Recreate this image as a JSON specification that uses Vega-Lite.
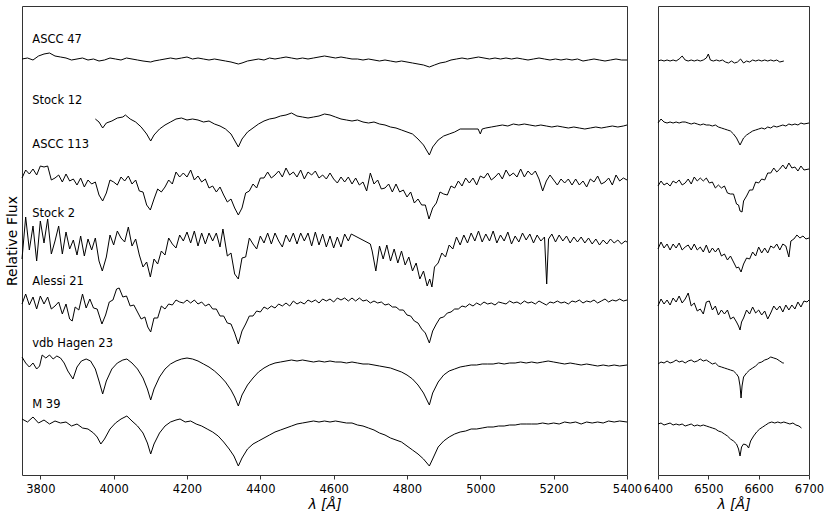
{
"$schema":"https://vega.github.io/schema/vega-lite/v6.json",
"padding":{"left":4,"top":5,"right":5,"bottom":3},
"bounds":"flush",
"spacing":31,
"config":{"font":"DejaVu Sans","view":{"stroke":"#333","strokeWidth":1},
"axis":{"labelFont":"DejaVu Sans","titleFont":"DejaVu Sans","labelFontSize":11.5,"titleFontSize":14,"titleFontWeight":"normal","labelColor":"#000","titleColor":"#000","tickColor":"#333","tickSize":4,"labelPadding":4,"titlePadding":3,"domain":false,"grid":false,"minExtent":0,"maxExtent":200,"labelFlush":false,"labelOverlap":false}},
"datasets":{
"T":[{"s":"ASCC 47","w":3778,"f":435},{"s":"Stock 12","w":3778,"f":374},{"s":"ASCC 113","w":3778,"f":330},{"s":"Stock 2","w":3778,"f":261},{"s":"Alessi 21","w":3778,"f":193},{"s":"vdb Hagen 23","w":3778,"f":131},{"s":"M 39","w":3778,"f":70}],
"L":[
{"s":"a","w":3750,"f":416},{"s":"a","w":3765,"f":417},{"s":"a","w":3780,"f":415},{"s":"a","w":3795,"f":419},{"s":"a","w":3810,"f":421},{"s":"a","w":3825,"f":422},{"s":"a","w":3840,"f":419},{"s":"a","w":3855,"f":418},{"s":"a","w":3870,"f":417},{"s":"a","w":3885,"f":415},{"s":"a","w":3900,"f":416},{"s":"a","w":3915,"f":417},{"s":"a","w":3930,"f":415},{"s":"a","w":3945,"f":416},{"s":"a","w":3960,"f":414},{"s":"a","w":3975,"f":415},{"s":"a","w":3990,"f":417},{"s":"a","w":4005,"f":416},{"s":"a","w":4020,"f":415},{"s":"a","w":4035,"f":417},{"s":"a","w":4050,"f":416},{"s":"a","w":4065,"f":415},{"s":"a","w":4080,"f":414},{"s":"a","w":4101,"f":413},{"s":"a","w":4110,"f":414},{"s":"a","w":4125,"f":415},{"s":"a","w":4140,"f":416},{"s":"a","w":4155,"f":417},{"s":"a","w":4170,"f":416},{"s":"a","w":4185,"f":417},{"s":"a","w":4200,"f":418},{"s":"a","w":4215,"f":416},{"s":"a","w":4230,"f":417},{"s":"a","w":4245,"f":416},{"s":"a","w":4260,"f":415},{"s":"a","w":4275,"f":416},{"s":"a","w":4290,"f":415},{"s":"a","w":4305,"f":414},{"s":"a","w":4320,"f":413},{"s":"a","w":4340,"f":411},{"s":"a","w":4350,"f":412},{"s":"a","w":4365,"f":414},{"s":"a","w":4380,"f":415},{"s":"a","w":4395,"f":416},{"s":"a","w":4410,"f":415},{"s":"a","w":4425,"f":417},{"s":"a","w":4440,"f":416},{"s":"a","w":4455,"f":417},{"s":"a","w":4470,"f":418},{"s":"a","w":4485,"f":417},{"s":"a","w":4500,"f":416},{"s":"a","w":4515,"f":417},{"s":"a","w":4530,"f":416},{"s":"a","w":4545,"f":417},{"s":"a","w":4560,"f":418},{"s":"a","w":4575,"f":419},{"s":"a","w":4590,"f":418},{"s":"a","w":4605,"f":417},{"s":"a","w":4620,"f":418},{"s":"a","w":4635,"f":417},{"s":"a","w":4650,"f":416},{"s":"a","w":4665,"f":416},{"s":"a","w":4680,"f":415},{"s":"a","w":4695,"f":416},{"s":"a","w":4710,"f":415},{"s":"a","w":4725,"f":414},{"s":"a","w":4740,"f":415},{"s":"a","w":4755,"f":414},{"s":"a","w":4770,"f":413},{"s":"a","w":4785,"f":414},{"s":"a","w":4800,"f":413},{"s":"a","w":4815,"f":412},{"s":"a","w":4830,"f":411},{"s":"a","w":4845,"f":410},{"s":"a","w":4861,"f":408},{"s":"a","w":4875,"f":410},{"s":"a","w":4890,"f":412},{"s":"a","w":4905,"f":413},{"s":"a","w":4920,"f":415},{"s":"a","w":4935,"f":416},{"s":"a","w":4950,"f":417},{"s":"a","w":4965,"f":416},{"s":"a","w":4980,"f":417},{"s":"a","w":4995,"f":418},{"s":"a","w":5010,"f":417},{"s":"a","w":5025,"f":416},{"s":"a","w":5040,"f":417},{"s":"a","w":5055,"f":416},{"s":"a","w":5070,"f":417},{"s":"a","w":5085,"f":416},{"s":"a","w":5100,"f":417},{"s":"a","w":5115,"f":416},{"s":"a","w":5130,"f":415},{"s":"a","w":5145,"f":416},{"s":"a","w":5160,"f":417},{"s":"a","w":5175,"f":416},{"s":"a","w":5190,"f":415},{"s":"a","w":5205,"f":416},{"s":"a","w":5220,"f":415},{"s":"a","w":5235,"f":416},{"s":"a","w":5250,"f":415},{"s":"a","w":5265,"f":416},{"s":"a","w":5280,"f":414},{"s":"a","w":5295,"f":415},{"s":"a","w":5310,"f":416},{"s":"a","w":5325,"f":415},{"s":"a","w":5340,"f":414},{"s":"a","w":5355,"f":415},{"s":"a","w":5370,"f":416},{"s":"a","w":5385,"f":415},{"s":"a","w":5400,"f":415},
{"s":"t","w":3950,"f":356},{"s":"t","w":3960,"f":353},{"s":"t","w":3970,"f":347},{"s":"t","w":3980,"f":352},{"s":"t","w":3995,"f":354},{"s":"t","w":4010,"f":357},{"s":"t","w":4025,"f":358},{"s":"t","w":4032,"f":360},{"s":"t","w":4045,"f":356},{"s":"t","w":4060,"f":353},{"s":"t","w":4075,"f":348},{"s":"t","w":4090,"f":341},{"s":"t","w":4101,"f":334},{"s":"t","w":4110,"f":340},{"s":"t","w":4125,"f":346},{"s":"t","w":4140,"f":350},{"s":"t","w":4155,"f":353},{"s":"t","w":4170,"f":356},{"s":"t","w":4185,"f":357},{"s":"t","w":4200,"f":355},{"s":"t","w":4215,"f":356},{"s":"t","w":4230,"f":355},{"s":"t","w":4245,"f":353},{"s":"t","w":4260,"f":354},{"s":"t","w":4275,"f":351},{"s":"t","w":4290,"f":349},{"s":"t","w":4305,"f":346},{"s":"t","w":4320,"f":341},{"s":"t","w":4340,"f":328},{"s":"t","w":4350,"f":336},{"s":"t","w":4365,"f":343},{"s":"t","w":4380,"f":347},{"s":"t","w":4395,"f":351},{"s":"t","w":4410,"f":354},{"s":"t","w":4425,"f":356},{"s":"t","w":4440,"f":357},{"s":"t","w":4455,"f":359},{"s":"t","w":4470,"f":360},{"s":"t","w":4485,"f":362},{"s":"t","w":4500,"f":359},{"s":"t","w":4515,"f":358},{"s":"t","w":4530,"f":357},{"s":"t","w":4545,"f":358},{"s":"t","w":4560,"f":359},{"s":"t","w":4575,"f":361},{"s":"t","w":4590,"f":360},{"s":"t","w":4605,"f":358},{"s":"t","w":4620,"f":356},{"s":"t","w":4635,"f":355},{"s":"t","w":4650,"f":354},{"s":"t","w":4665,"f":355},{"s":"t","w":4680,"f":353},{"s":"t","w":4695,"f":352},{"s":"t","w":4710,"f":353},{"s":"t","w":4725,"f":351},{"s":"t","w":4740,"f":350},{"s":"t","w":4755,"f":348},{"s":"t","w":4770,"f":347},{"s":"t","w":4785,"f":345},{"s":"t","w":4800,"f":343},{"s":"t","w":4815,"f":341},{"s":"t","w":4830,"f":336},{"s":"t","w":4845,"f":330},{"s":"t","w":4861,"f":320},{"s":"t","w":4870,"f":328},{"s":"t","w":4885,"f":335},{"s":"t","w":4900,"f":339},{"s":"t","w":4915,"f":341},{"s":"t","w":4930,"f":343},{"s":"t","w":4945,"f":346},{"s":"t","w":4994,"f":346},{"s":"t","w":5000,"f":341},{"s":"t","w":5005,"f":346},{"s":"t","w":5015,"f":347},{"s":"t","w":5030,"f":348},{"s":"t","w":5045,"f":349},{"s":"t","w":5060,"f":350},{"s":"t","w":5075,"f":349},{"s":"t","w":5090,"f":351},{"s":"t","w":5105,"f":350},{"s":"t","w":5120,"f":351},{"s":"t","w":5135,"f":350},{"s":"t","w":5150,"f":349},{"s":"t","w":5165,"f":350},{"s":"t","w":5180,"f":349},{"s":"t","w":5195,"f":348},{"s":"t","w":5210,"f":349},{"s":"t","w":5225,"f":348},{"s":"t","w":5240,"f":347},{"s":"t","w":5255,"f":348},{"s":"t","w":5270,"f":347},{"s":"t","w":5285,"f":346},{"s":"t","w":5300,"f":347},{"s":"t","w":5315,"f":348},{"s":"t","w":5330,"f":347},{"s":"t","w":5345,"f":348},{"s":"t","w":5360,"f":349},{"s":"t","w":5375,"f":348},{"s":"t","w":5390,"f":349},{"s":"t","w":5400,"f":350},
{"s":"c","w":3750,"f":297},{"s":"c","w":3760,"f":305},{"s":"c","w":3770,"f":301},{"s":"c","w":3780,"f":306},{"s":"c","w":3790,"f":300},{"s":"c","w":3800,"f":309},{"s":"c","w":3810,"f":308},{"s":"c","w":3820,"f":309},{"s":"c","w":3830,"f":295},{"s":"c","w":3840,"f":297},{"s":"c","w":3850,"f":300},{"s":"c","w":3860,"f":293},{"s":"c","w":3870,"f":301},{"s":"c","w":3880,"f":294},{"s":"c","w":3890,"f":296},{"s":"c","w":3900,"f":290},{"s":"c","w":3910,"f":297},{"s":"c","w":3920,"f":288},{"s":"c","w":3930,"f":295},{"s":"c","w":3940,"f":291},{"s":"c","w":3950,"f":293},{"s":"c","w":3960,"f":280},{"s":"c","w":3970,"f":274},{"s":"c","w":3980,"f":282},{"s":"c","w":3990,"f":295},{"s":"c","w":4000,"f":293},{"s":"c","w":4010,"f":290},{"s":"c","w":4020,"f":298},{"s":"c","w":4030,"f":294},{"s":"c","w":4040,"f":299},{"s":"c","w":4050,"f":291},{"s":"c","w":4060,"f":295},{"s":"c","w":4070,"f":284},{"s":"c","w":4080,"f":283},{"s":"c","w":4090,"f":270},{"s":"c","w":4100,"f":265},{"s":"c","w":4110,"f":276},{"s":"c","w":4120,"f":286},{"s":"c","w":4130,"f":283},{"s":"c","w":4140,"f":288},{"s":"c","w":4150,"f":295},{"s":"c","w":4160,"f":291},{"s":"c","w":4170,"f":303},{"s":"c","w":4180,"f":298},{"s":"c","w":4190,"f":302},{"s":"c","w":4200,"f":298},{"s":"c","w":4210,"f":305},{"s":"c","w":4220,"f":295},{"s":"c","w":4230,"f":299},{"s":"c","w":4240,"f":293},{"s":"c","w":4250,"f":296},{"s":"c","w":4260,"f":287},{"s":"c","w":4270,"f":289},{"s":"c","w":4280,"f":283},{"s":"c","w":4290,"f":288},{"s":"c","w":4300,"f":280},{"s":"c","w":4310,"f":273},{"s":"c","w":4320,"f":276},{"s":"c","w":4330,"f":267},{"s":"c","w":4340,"f":260},{"s":"c","w":4350,"f":267},{"s":"c","w":4360,"f":282},{"s":"c","w":4370,"f":284},{"s":"c","w":4380,"f":291},{"s":"c","w":4390,"f":287},{"s":"c","w":4400,"f":297},{"s":"c","w":4410,"f":297},{"s":"c","w":4420,"f":303},{"s":"c","w":4430,"f":297},{"s":"c","w":4440,"f":300},{"s":"c","w":4450,"f":304},{"s":"c","w":4460,"f":298},{"s":"c","w":4470,"f":307},{"s":"c","w":4480,"f":300},{"s":"c","w":4490,"f":303},{"s":"c","w":4500,"f":298},{"s":"c","w":4510,"f":305},{"s":"c","w":4520,"f":296},{"s":"c","w":4530,"f":303},{"s":"c","w":4540,"f":300},{"s":"c","w":4550,"f":304},{"s":"c","w":4560,"f":297},{"s":"c","w":4570,"f":300},{"s":"c","w":4580,"f":296},{"s":"c","w":4590,"f":302},{"s":"c","w":4600,"f":296},{"s":"c","w":4610,"f":292},{"s":"c","w":4620,"f":298},{"s":"c","w":4630,"f":293},{"s":"c","w":4640,"f":298},{"s":"c","w":4650,"f":291},{"s":"c","w":4660,"f":297},{"s":"c","w":4670,"f":290},{"s":"c","w":4680,"f":293},{"s":"c","w":4690,"f":284},{"s":"c","w":4700,"f":302},{"s":"c","w":4710,"f":291},{"s":"c","w":4720,"f":295},{"s":"c","w":4730,"f":286},{"s":"c","w":4740,"f":287},{"s":"c","w":4750,"f":291},{"s":"c","w":4760,"f":283},{"s":"c","w":4770,"f":291},{"s":"c","w":4780,"f":283},{"s":"c","w":4790,"f":285},{"s":"c","w":4800,"f":278},{"s":"c","w":4810,"f":283},{"s":"c","w":4820,"f":272},{"s":"c","w":4830,"f":276},{"s":"c","w":4840,"f":270},{"s":"c","w":4850,"f":270},{"s":"c","w":4860,"f":256},{"s":"c","w":4870,"f":267},{"s":"c","w":4880,"f":272},{"s":"c","w":4890,"f":283},{"s":"c","w":4900,"f":281},{"s":"c","w":4910,"f":280},{"s":"c","w":4920,"f":289},{"s":"c","w":4930,"f":287},{"s":"c","w":4940,"f":294},{"s":"c","w":4950,"f":289},{"s":"c","w":4960,"f":297},{"s":"c","w":4970,"f":292},{"s":"c","w":4980,"f":297},{"s":"c","w":4990,"f":290},{"s":"c","w":5000,"f":299},{"s":"c","w":5010,"f":297},{"s":"c","w":5020,"f":302},{"s":"c","w":5030,"f":295},{"s":"c","w":5040,"f":298},{"s":"c","w":5050,"f":302},{"s":"c","w":5060,"f":296},{"s":"c","w":5070,"f":305},{"s":"c","w":5080,"f":299},{"s":"c","w":5090,"f":302},{"s":"c","w":5100,"f":298},{"s":"c","w":5110,"f":306},{"s":"c","w":5120,"f":298},{"s":"c","w":5130,"f":304},{"s":"c","w":5140,"f":300},{"s":"c","w":5150,"f":304},{"s":"c","w":5160,"f":296},{"s":"c","w":5170,"f":284},{"s":"c","w":5180,"f":294},{"s":"c","w":5190,"f":300},{"s":"c","w":5200,"f":295},{"s":"c","w":5210,"f":290},{"s":"c","w":5220,"f":296},{"s":"c","w":5230,"f":292},{"s":"c","w":5240,"f":296},{"s":"c","w":5250,"f":290},{"s":"c","w":5260,"f":296},{"s":"c","w":5270,"f":290},{"s":"c","w":5280,"f":294},{"s":"c","w":5290,"f":288},{"s":"c","w":5300,"f":296},{"s":"c","w":5310,"f":293},{"s":"c","w":5320,"f":299},{"s":"c","w":5330,"f":291},{"s":"c","w":5340,"f":293},{"s":"c","w":5350,"f":297},{"s":"c","w":5360,"f":290},{"s":"c","w":5370,"f":300},{"s":"c","w":5380,"f":294},{"s":"c","w":5390,"f":297},{"s":"c","w":5400,"f":295},
{"s":"b","w":3750,"f":216},{"s":"b","w":3760,"f":258},{"s":"b","w":3770,"f":225},{"s":"b","w":3780,"f":249},{"s":"b","w":3790,"f":214},{"s":"b","w":3800,"f":254},{"s":"b","w":3810,"f":232},{"s":"b","w":3820,"f":256},{"s":"b","w":3830,"f":221},{"s":"b","w":3840,"f":234},{"s":"b","w":3850,"f":249},{"s":"b","w":3860,"f":221},{"s":"b","w":3870,"f":243},{"s":"b","w":3880,"f":226},{"s":"b","w":3890,"f":235},{"s":"b","w":3900,"f":220},{"s":"b","w":3910,"f":239},{"s":"b","w":3920,"f":219},{"s":"b","w":3930,"f":236},{"s":"b","w":3940,"f":225},{"s":"b","w":3950,"f":237},{"s":"b","w":3960,"f":214},{"s":"b","w":3969,"f":204},{"s":"b","w":3980,"f":218},{"s":"b","w":3990,"f":240},{"s":"b","w":4000,"f":230},{"s":"b","w":4010,"f":244},{"s":"b","w":4020,"f":237},{"s":"b","w":4030,"f":233},{"s":"b","w":4040,"f":248},{"s":"b","w":4050,"f":229},{"s":"b","w":4060,"f":236},{"s":"b","w":4070,"f":220},{"s":"b","w":4080,"f":208},{"s":"b","w":4090,"f":213},{"s":"b","w":4100,"f":198},{"s":"b","w":4110,"f":216},{"s":"b","w":4120,"f":211},{"s":"b","w":4130,"f":224},{"s":"b","w":4140,"f":220},{"s":"b","w":4150,"f":237},{"s":"b","w":4160,"f":231},{"s":"b","w":4170,"f":227},{"s":"b","w":4180,"f":240},{"s":"b","w":4190,"f":234},{"s":"b","w":4200,"f":243},{"s":"b","w":4210,"f":232},{"s":"b","w":4220,"f":244},{"s":"b","w":4230,"f":229},{"s":"b","w":4240,"f":242},{"s":"b","w":4250,"f":231},{"s":"b","w":4260,"f":242},{"s":"b","w":4270,"f":234},{"s":"b","w":4280,"f":242},{"s":"b","w":4290,"f":228},{"s":"b","w":4298,"f":246},{"s":"b","w":4310,"f":219},{"s":"b","w":4320,"f":222},{"s":"b","w":4330,"f":201},{"s":"b","w":4340,"f":196},{"s":"b","w":4350,"f":217},{"s":"b","w":4360,"f":218},{"s":"b","w":4370,"f":237},{"s":"b","w":4380,"f":231},{"s":"b","w":4390,"f":226},{"s":"b","w":4400,"f":239},{"s":"b","w":4410,"f":232},{"s":"b","w":4420,"f":242},{"s":"b","w":4430,"f":231},{"s":"b","w":4440,"f":242},{"s":"b","w":4450,"f":234},{"s":"b","w":4460,"f":228},{"s":"b","w":4470,"f":240},{"s":"b","w":4480,"f":233},{"s":"b","w":4490,"f":242},{"s":"b","w":4500,"f":231},{"s":"b","w":4510,"f":242},{"s":"b","w":4520,"f":234},{"s":"b","w":4530,"f":242},{"s":"b","w":4540,"f":229},{"s":"b","w":4550,"f":243},{"s":"b","w":4560,"f":230},{"s":"b","w":4570,"f":241},{"s":"b","w":4580,"f":228},{"s":"b","w":4590,"f":239},{"s":"b","w":4600,"f":227},{"s":"b","w":4610,"f":238},{"s":"b","w":4620,"f":228},{"s":"b","w":4630,"f":241},{"s":"b","w":4640,"f":234},{"s":"b","w":4648,"f":241},{"s":"b","w":4700,"f":231},{"s":"b","w":4705,"f":224},{"s":"b","w":4715,"f":204},{"s":"b","w":4725,"f":229},{"s":"b","w":4735,"f":216},{"s":"b","w":4745,"f":230},{"s":"b","w":4755,"f":214},{"s":"b","w":4765,"f":226},{"s":"b","w":4775,"f":212},{"s":"b","w":4785,"f":224},{"s":"b","w":4795,"f":210},{"s":"b","w":4805,"f":218},{"s":"b","w":4815,"f":204},{"s":"b","w":4825,"f":212},{"s":"b","w":4835,"f":196},{"s":"b","w":4845,"f":204},{"s":"b","w":4855,"f":189},{"s":"b","w":4862,"f":196},{"s":"b","w":4868,"f":188},{"s":"b","w":4875,"f":208},{"s":"b","w":4885,"f":212},{"s":"b","w":4895,"f":222},{"s":"b","w":4905,"f":218},{"s":"b","w":4915,"f":230},{"s":"b","w":4925,"f":226},{"s":"b","w":4935,"f":238},{"s":"b","w":4945,"f":230},{"s":"b","w":4955,"f":240},{"s":"b","w":4965,"f":232},{"s":"b","w":4975,"f":242},{"s":"b","w":4985,"f":234},{"s":"b","w":4995,"f":244},{"s":"b","w":5005,"f":233},{"s":"b","w":5015,"f":241},{"s":"b","w":5025,"f":234},{"s":"b","w":5035,"f":244},{"s":"b","w":5045,"f":232},{"s":"b","w":5055,"f":240},{"s":"b","w":5065,"f":234},{"s":"b","w":5075,"f":243},{"s":"b","w":5085,"f":231},{"s":"b","w":5095,"f":239},{"s":"b","w":5105,"f":233},{"s":"b","w":5115,"f":242},{"s":"b","w":5125,"f":235},{"s":"b","w":5135,"f":241},{"s":"b","w":5145,"f":232},{"s":"b","w":5155,"f":240},{"s":"b","w":5165,"f":234},{"s":"b","w":5175,"f":238},{"s":"b","w":5181,"f":191},{"s":"b","w":5186,"f":236},{"s":"b","w":5195,"f":241},{"s":"b","w":5205,"f":233},{"s":"b","w":5215,"f":240},{"s":"b","w":5225,"f":234},{"s":"b","w":5235,"f":239},{"s":"b","w":5245,"f":232},{"s":"b","w":5255,"f":238},{"s":"b","w":5265,"f":233},{"s":"b","w":5275,"f":238},{"s":"b","w":5285,"f":232},{"s":"b","w":5295,"f":237},{"s":"b","w":5305,"f":231},{"s":"b","w":5315,"f":236},{"s":"b","w":5325,"f":230},{"s":"b","w":5335,"f":235},{"s":"b","w":5345,"f":231},{"s":"b","w":5355,"f":236},{"s":"b","w":5365,"f":232},{"s":"b","w":5375,"f":235},{"s":"b","w":5385,"f":231},{"s":"b","w":5395,"f":234},{"s":"b","w":5400,"f":233},
{"s":"l","w":3750,"f":171},{"s":"l","w":3760,"f":181},{"s":"l","w":3770,"f":170},{"s":"l","w":3780,"f":178},{"s":"l","w":3790,"f":166},{"s":"l","w":3800,"f":179},{"s":"l","w":3810,"f":171},{"s":"l","w":3820,"f":178},{"s":"l","w":3830,"f":166},{"s":"l","w":3840,"f":169},{"s":"l","w":3850,"f":173},{"s":"l","w":3860,"f":161},{"s":"l","w":3870,"f":171},{"s":"l","w":3880,"f":156},{"s":"l","w":3887,"f":154},{"s":"l","w":3895,"f":168},{"s":"l","w":3905,"f":165},{"s":"l","w":3915,"f":181},{"s":"l","w":3925,"f":167},{"s":"l","w":3935,"f":176},{"s":"l","w":3945,"f":167},{"s":"l","w":3955,"f":166},{"s":"l","w":3968,"f":151},{"s":"l","w":3978,"f":160},{"s":"l","w":3988,"f":173},{"s":"l","w":3998,"f":175},{"s":"l","w":4008,"f":186},{"s":"l","w":4015,"f":187},{"s":"l","w":4025,"f":178},{"s":"l","w":4035,"f":179},{"s":"l","w":4045,"f":169},{"s":"l","w":4055,"f":170},{"s":"l","w":4065,"f":163},{"s":"l","w":4075,"f":156},{"s":"l","w":4085,"f":158},{"s":"l","w":4093,"f":148},{"s":"l","w":4101,"f":143},{"s":"l","w":4110,"f":157},{"s":"l","w":4120,"f":157},{"s":"l","w":4130,"f":169},{"s":"l","w":4140,"f":166},{"s":"l","w":4150,"f":171},{"s":"l","w":4160,"f":170},{"s":"l","w":4170,"f":175},{"s":"l","w":4180,"f":173},{"s":"l","w":4190,"f":172},{"s":"l","w":4200,"f":175},{"s":"l","w":4210,"f":172},{"s":"l","w":4220,"f":175},{"s":"l","w":4230,"f":171},{"s":"l","w":4240,"f":173},{"s":"l","w":4250,"f":169},{"s":"l","w":4260,"f":171},{"s":"l","w":4270,"f":166},{"s":"l","w":4280,"f":166},{"s":"l","w":4290,"f":159},{"s":"l","w":4300,"f":159},{"s":"l","w":4310,"f":152},{"s":"l","w":4320,"f":151},{"s":"l","w":4330,"f":142},{"s":"l","w":4340,"f":131},{"s":"l","w":4350,"f":144},{"s":"l","w":4360,"f":151},{"s":"l","w":4370,"f":159},{"s":"l","w":4380,"f":159},{"s":"l","w":4390,"f":164},{"s":"l","w":4400,"f":163},{"s":"l","w":4410,"f":168},{"s":"l","w":4420,"f":166},{"s":"l","w":4430,"f":169},{"s":"l","w":4440,"f":167},{"s":"l","w":4450,"f":171},{"s":"l","w":4460,"f":169},{"s":"l","w":4470,"f":172},{"s":"l","w":4480,"f":169},{"s":"l","w":4490,"f":174},{"s":"l","w":4500,"f":171},{"s":"l","w":4510,"f":173},{"s":"l","w":4520,"f":171},{"s":"l","w":4530,"f":175},{"s":"l","w":4540,"f":173},{"s":"l","w":4550,"f":175},{"s":"l","w":4560,"f":172},{"s":"l","w":4570,"f":176},{"s":"l","w":4580,"f":174},{"s":"l","w":4590,"f":176},{"s":"l","w":4600,"f":173},{"s":"l","w":4610,"f":177},{"s":"l","w":4620,"f":175},{"s":"l","w":4630,"f":177},{"s":"l","w":4640,"f":174},{"s":"l","w":4650,"f":177},{"s":"l","w":4660,"f":174},{"s":"l","w":4670,"f":177},{"s":"l","w":4680,"f":174},{"s":"l","w":4690,"f":175},{"s":"l","w":4700,"f":172},{"s":"l","w":4710,"f":174},{"s":"l","w":4720,"f":172},{"s":"l","w":4730,"f":173},{"s":"l","w":4740,"f":170},{"s":"l","w":4750,"f":171},{"s":"l","w":4760,"f":168},{"s":"l","w":4770,"f":168},{"s":"l","w":4780,"f":165},{"s":"l","w":4790,"f":165},{"s":"l","w":4800,"f":160},{"s":"l","w":4810,"f":159},{"s":"l","w":4820,"f":154},{"s":"l","w":4830,"f":152},{"s":"l","w":4840,"f":146},{"s":"l","w":4850,"f":142},{"s":"l","w":4861,"f":132},{"s":"l","w":4870,"f":144},{"s":"l","w":4880,"f":151},{"s":"l","w":4890,"f":157},{"s":"l","w":4900,"f":158},{"s":"l","w":4910,"f":162},{"s":"l","w":4920,"f":163},{"s":"l","w":4930,"f":166},{"s":"l","w":4940,"f":166},{"s":"l","w":4950,"f":169},{"s":"l","w":4960,"f":168},{"s":"l","w":4970,"f":171},{"s":"l","w":4980,"f":169},{"s":"l","w":4990,"f":172},{"s":"l","w":5000,"f":170},{"s":"l","w":5010,"f":173},{"s":"l","w":5020,"f":171},{"s":"l","w":5030,"f":172},{"s":"l","w":5040,"f":170},{"s":"l","w":5050,"f":173},{"s":"l","w":5060,"f":172},{"s":"l","w":5070,"f":171},{"s":"l","w":5080,"f":174},{"s":"l","w":5090,"f":172},{"s":"l","w":5100,"f":173},{"s":"l","w":5110,"f":171},{"s":"l","w":5120,"f":174},{"s":"l","w":5130,"f":172},{"s":"l","w":5140,"f":173},{"s":"l","w":5150,"f":171},{"s":"l","w":5160,"f":174},{"s":"l","w":5170,"f":172},{"s":"l","w":5180,"f":170},{"s":"l","w":5190,"f":173},{"s":"l","w":5200,"f":172},{"s":"l","w":5210,"f":174},{"s":"l","w":5220,"f":172},{"s":"l","w":5230,"f":173},{"s":"l","w":5240,"f":171},{"s":"l","w":5250,"f":174},{"s":"l","w":5260,"f":173},{"s":"l","w":5270,"f":175},{"s":"l","w":5280,"f":172},{"s":"l","w":5290,"f":174},{"s":"l","w":5300,"f":173},{"s":"l","w":5310,"f":175},{"s":"l","w":5320,"f":172},{"s":"l","w":5330,"f":174},{"s":"l","w":5340,"f":176},{"s":"l","w":5350,"f":173},{"s":"l","w":5360,"f":175},{"s":"l","w":5370,"f":174},{"s":"l","w":5380,"f":176},{"s":"l","w":5390,"f":174},{"s":"l","w":5400,"f":175},
{"s":"v","w":3750,"f":118},{"s":"v","w":3760,"f":112},{"s":"v","w":3770,"f":108},{"s":"v","w":3780,"f":112},{"s":"v","w":3790,"f":106},{"s":"v","w":3798,"f":109},{"s":"v","w":3805,"f":120},{"s":"v","w":3815,"f":117},{"s":"v","w":3825,"f":120},{"s":"v","w":3835,"f":116},{"s":"v","w":3845,"f":119},{"s":"v","w":3855,"f":117},{"s":"v","w":3865,"f":112},{"s":"v","w":3875,"f":104},{"s":"v","w":3889,"f":96},{"s":"v","w":3900,"f":108},{"s":"v","w":3912,"f":114},{"s":"v","w":3925,"f":116},{"s":"v","w":3937,"f":114},{"s":"v","w":3950,"f":106},{"s":"v","w":3960,"f":94},{"s":"v","w":3970,"f":81},{"s":"v","w":3980,"f":94},{"s":"v","w":3995,"f":106},{"s":"v","w":4010,"f":112},{"s":"v","w":4025,"f":115},{"s":"v","w":4036,"f":116},{"s":"v","w":4050,"f":112},{"s":"v","w":4065,"f":106},{"s":"v","w":4080,"f":97},{"s":"v","w":4092,"f":86},{"s":"v","w":4101,"f":75},{"s":"v","w":4110,"f":86},{"s":"v","w":4125,"f":98},{"s":"v","w":4140,"f":106},{"s":"v","w":4155,"f":111},{"s":"v","w":4170,"f":114},{"s":"v","w":4185,"f":116},{"s":"v","w":4200,"f":117},{"s":"v","w":4215,"f":116},{"s":"v","w":4230,"f":114},{"s":"v","w":4245,"f":111},{"s":"v","w":4260,"f":108},{"s":"v","w":4275,"f":104},{"s":"v","w":4290,"f":99},{"s":"v","w":4305,"f":93},{"s":"v","w":4320,"f":85},{"s":"v","w":4330,"f":78},{"s":"v","w":4340,"f":69},{"s":"v","w":4350,"f":80},{"s":"v","w":4365,"f":90},{"s":"v","w":4380,"f":97},{"s":"v","w":4395,"f":103},{"s":"v","w":4410,"f":107},{"s":"v","w":4425,"f":110},{"s":"v","w":4440,"f":112},{"s":"v","w":4455,"f":113},{"s":"v","w":4470,"f":114},{"s":"v","w":4485,"f":115},{"s":"v","w":4500,"f":114},{"s":"v","w":4515,"f":115},{"s":"v","w":4530,"f":114},{"s":"v","w":4545,"f":113},{"s":"v","w":4560,"f":114},{"s":"v","w":4575,"f":113},{"s":"v","w":4590,"f":114},{"s":"v","w":4605,"f":113},{"s":"v","w":4620,"f":113},{"s":"v","w":4635,"f":112},{"s":"v","w":4650,"f":113},{"s":"v","w":4665,"f":112},{"s":"v","w":4680,"f":111},{"s":"v","w":4695,"f":111},{"s":"v","w":4710,"f":110},{"s":"v","w":4725,"f":109},{"s":"v","w":4740,"f":108},{"s":"v","w":4755,"f":107},{"s":"v","w":4770,"f":105},{"s":"v","w":4785,"f":103},{"s":"v","w":4800,"f":100},{"s":"v","w":4815,"f":96},{"s":"v","w":4830,"f":90},{"s":"v","w":4845,"f":82},{"s":"v","w":4861,"f":70},{"s":"v","w":4870,"f":82},{"s":"v","w":4885,"f":93},{"s":"v","w":4900,"f":100},{"s":"v","w":4915,"f":104},{"s":"v","w":4930,"f":106},{"s":"v","w":4945,"f":108},{"s":"v","w":4960,"f":109},{"s":"v","w":4975,"f":110},{"s":"v","w":4990,"f":110},{"s":"v","w":5005,"f":111},{"s":"v","w":5020,"f":111},{"s":"v","w":5035,"f":111},{"s":"v","w":5050,"f":112},{"s":"v","w":5065,"f":111},{"s":"v","w":5080,"f":112},{"s":"v","w":5095,"f":112},{"s":"v","w":5110,"f":113},{"s":"v","w":5125,"f":112},{"s":"v","w":5140,"f":113},{"s":"v","w":5155,"f":112},{"s":"v","w":5170,"f":113},{"s":"v","w":5185,"f":114},{"s":"v","w":5200,"f":113},{"s":"v","w":5215,"f":112},{"s":"v","w":5230,"f":111},{"s":"v","w":5245,"f":112},{"s":"v","w":5260,"f":111},{"s":"v","w":5275,"f":110},{"s":"v","w":5290,"f":111},{"s":"v","w":5305,"f":110},{"s":"v","w":5320,"f":109},{"s":"v","w":5335,"f":110},{"s":"v","w":5350,"f":109},{"s":"v","w":5365,"f":110},{"s":"v","w":5380,"f":109},{"s":"v","w":5400,"f":110},
{"s":"m","w":3750,"f":56},{"s":"m","w":3765,"f":53},{"s":"m","w":3780,"f":58},{"s":"m","w":3795,"f":52},{"s":"m","w":3810,"f":55},{"s":"m","w":3825,"f":51},{"s":"m","w":3840,"f":54},{"s":"m","w":3855,"f":52},{"s":"m","w":3870,"f":53},{"s":"m","w":3885,"f":49},{"s":"m","w":3900,"f":51},{"s":"m","w":3915,"f":47},{"s":"m","w":3930,"f":46},{"s":"m","w":3945,"f":42},{"s":"m","w":3955,"f":38},{"s":"m","w":3965,"f":31},{"s":"m","w":3975,"f":36},{"s":"m","w":3990,"f":46},{"s":"m","w":4005,"f":52},{"s":"m","w":4020,"f":56},{"s":"m","w":4036,"f":59},{"s":"m","w":4050,"f":54},{"s":"m","w":4065,"f":49},{"s":"m","w":4080,"f":42},{"s":"m","w":4092,"f":32},{"s":"m","w":4101,"f":21},{"s":"m","w":4110,"f":31},{"s":"m","w":4125,"f":42},{"s":"m","w":4140,"f":49},{"s":"m","w":4155,"f":53},{"s":"m","w":4170,"f":55},{"s":"m","w":4181,"f":56},{"s":"m","w":4195,"f":53},{"s":"m","w":4210,"f":54},{"s":"m","w":4225,"f":51},{"s":"m","w":4240,"f":49},{"s":"m","w":4255,"f":46},{"s":"m","w":4270,"f":43},{"s":"m","w":4285,"f":39},{"s":"m","w":4300,"f":33},{"s":"m","w":4315,"f":26},{"s":"m","w":4328,"f":19},{"s":"m","w":4340,"f":9},{"s":"m","w":4350,"f":17},{"s":"m","w":4365,"f":26},{"s":"m","w":4380,"f":31},{"s":"m","w":4395,"f":34},{"s":"m","w":4410,"f":37},{"s":"m","w":4425,"f":40},{"s":"m","w":4440,"f":43},{"s":"m","w":4455,"f":45},{"s":"m","w":4470,"f":47},{"s":"m","w":4485,"f":49},{"s":"m","w":4500,"f":51},{"s":"m","w":4515,"f":52},{"s":"m","w":4530,"f":53},{"s":"m","w":4545,"f":54},{"s":"m","w":4560,"f":53},{"s":"m","w":4575,"f":54},{"s":"m","w":4590,"f":53},{"s":"m","w":4605,"f":54},{"s":"m","w":4620,"f":53},{"s":"m","w":4635,"f":52},{"s":"m","w":4650,"f":52},{"s":"m","w":4665,"f":50},{"s":"m","w":4680,"f":49},{"s":"m","w":4695,"f":47},{"s":"m","w":4710,"f":45},{"s":"m","w":4725,"f":42},{"s":"m","w":4740,"f":40},{"s":"m","w":4755,"f":37},{"s":"m","w":4770,"f":35},{"s":"m","w":4785,"f":33},{"s":"m","w":4800,"f":29},{"s":"m","w":4815,"f":25},{"s":"m","w":4830,"f":21},{"s":"m","w":4845,"f":16},{"s":"m","w":4861,"f":9},{"s":"m","w":4870,"f":16},{"s":"m","w":4885,"f":28},{"s":"m","w":4900,"f":34},{"s":"m","w":4915,"f":38},{"s":"m","w":4930,"f":41},{"s":"m","w":4945,"f":43},{"s":"m","w":4960,"f":44},{"s":"m","w":4975,"f":46},{"s":"m","w":4990,"f":46},{"s":"m","w":5005,"f":47},{"s":"m","w":5020,"f":48},{"s":"m","w":5035,"f":48},{"s":"m","w":5050,"f":49},{"s":"m","w":5065,"f":49},{"s":"m","w":5080,"f":50},{"s":"m","w":5095,"f":50},{"s":"m","w":5110,"f":51},{"s":"m","w":5125,"f":51},{"s":"m","w":5140,"f":51},{"s":"m","w":5155,"f":51},{"s":"m","w":5170,"f":52},{"s":"m","w":5185,"f":51},{"s":"m","w":5200,"f":52},{"s":"m","w":5215,"f":51},{"s":"m","w":5230,"f":53},{"s":"m","w":5245,"f":52},{"s":"m","w":5260,"f":53},{"s":"m","w":5275,"f":51},{"s":"m","w":5290,"f":53},{"s":"m","w":5305,"f":52},{"s":"m","w":5320,"f":53},{"s":"m","w":5335,"f":52},{"s":"m","w":5350,"f":54},{"s":"m","w":5365,"f":53},{"s":"m","w":5380,"f":54},{"s":"m","w":5400,"f":53}
],
"R":[
{"s":"a","w":6400,"f":414},{"s":"a","w":6406,"f":415},{"s":"a","w":6412,"f":414},{"s":"a","w":6418,"f":415},{"s":"a","w":6424,"f":414},{"s":"a","w":6430,"f":415},{"s":"a","w":6436,"f":414},{"s":"a","w":6442,"f":416},{"s":"a","w":6448,"f":419},{"s":"a","w":6454,"f":415},{"s":"a","w":6460,"f":414},{"s":"a","w":6466,"f":415},{"s":"a","w":6472,"f":414},{"s":"a","w":6478,"f":415},{"s":"a","w":6484,"f":414},{"s":"a","w":6490,"f":415},{"s":"a","w":6496,"f":417},{"s":"a","w":6500,"f":421},{"s":"a","w":6504,"f":415},{"s":"a","w":6510,"f":414},{"s":"a","w":6516,"f":415},{"s":"a","w":6522,"f":414},{"s":"a","w":6528,"f":415},{"s":"a","w":6534,"f":413},{"s":"a","w":6540,"f":412},{"s":"a","w":6546,"f":414},{"s":"a","w":6552,"f":412},{"s":"a","w":6558,"f":413},{"s":"a","w":6564,"f":416},{"s":"a","w":6570,"f":412},{"s":"a","w":6576,"f":414},{"s":"a","w":6582,"f":413},{"s":"a","w":6588,"f":415},{"s":"a","w":6594,"f":414},{"s":"a","w":6600,"f":415},{"s":"a","w":6606,"f":414},{"s":"a","w":6612,"f":415},{"s":"a","w":6618,"f":414},{"s":"a","w":6624,"f":415},{"s":"a","w":6630,"f":414},{"s":"a","w":6636,"f":415},{"s":"a","w":6642,"f":413},{"s":"a","w":6650,"f":414},
{"s":"t","w":6400,"f":352},{"s":"t","w":6406,"f":356},{"s":"t","w":6412,"f":353},{"s":"t","w":6418,"f":352},{"s":"t","w":6424,"f":353},{"s":"t","w":6430,"f":352},{"s":"t","w":6436,"f":353},{"s":"t","w":6442,"f":352},{"s":"t","w":6448,"f":353},{"s":"t","w":6454,"f":353},{"s":"t","w":6460,"f":352},{"s":"t","w":6466,"f":351},{"s":"t","w":6472,"f":352},{"s":"t","w":6478,"f":351},{"s":"t","w":6484,"f":350},{"s":"t","w":6490,"f":351},{"s":"t","w":6496,"f":350},{"s":"t","w":6502,"f":350},{"s":"t","w":6508,"f":349},{"s":"t","w":6514,"f":350},{"s":"t","w":6520,"f":348},{"s":"t","w":6526,"f":347},{"s":"t","w":6532,"f":346},{"s":"t","w":6538,"f":345},{"s":"t","w":6544,"f":344},{"s":"t","w":6550,"f":341},{"s":"t","w":6556,"f":337},{"s":"t","w":6563,"f":330},{"s":"t","w":6570,"f":337},{"s":"t","w":6576,"f":340},{"s":"t","w":6582,"f":342},{"s":"t","w":6588,"f":344},{"s":"t","w":6594,"f":345},{"s":"t","w":6600,"f":346},{"s":"t","w":6606,"f":347},{"s":"t","w":6612,"f":346},{"s":"t","w":6618,"f":348},{"s":"t","w":6624,"f":347},{"s":"t","w":6630,"f":349},{"s":"t","w":6636,"f":348},{"s":"t","w":6642,"f":349},{"s":"t","w":6648,"f":350},{"s":"t","w":6654,"f":349},{"s":"t","w":6660,"f":351},{"s":"t","w":6666,"f":350},{"s":"t","w":6672,"f":351},{"s":"t","w":6678,"f":350},{"s":"t","w":6684,"f":352},{"s":"t","w":6690,"f":351},{"s":"t","w":6700,"f":352},
{"s":"c","w":6400,"f":289},{"s":"c","w":6406,"f":294},{"s":"c","w":6412,"f":290},{"s":"c","w":6418,"f":292},{"s":"c","w":6424,"f":289},{"s":"c","w":6430,"f":294},{"s":"c","w":6436,"f":292},{"s":"c","w":6442,"f":295},{"s":"c","w":6448,"f":290},{"s":"c","w":6454,"f":292},{"s":"c","w":6460,"f":296},{"s":"c","w":6466,"f":291},{"s":"c","w":6472,"f":298},{"s":"c","w":6478,"f":294},{"s":"c","w":6484,"f":297},{"s":"c","w":6490,"f":294},{"s":"c","w":6496,"f":297},{"s":"c","w":6502,"f":292},{"s":"c","w":6508,"f":293},{"s":"c","w":6514,"f":287},{"s":"c","w":6520,"f":290},{"s":"c","w":6526,"f":287},{"s":"c","w":6532,"f":289},{"s":"c","w":6538,"f":282},{"s":"c","w":6544,"f":281},{"s":"c","w":6550,"f":281},{"s":"c","w":6556,"f":271},{"s":"c","w":6560,"f":270},{"s":"c","w":6563,"f":264},{"s":"c","w":6567,"f":263},{"s":"c","w":6570,"f":274},{"s":"c","w":6576,"f":279},{"s":"c","w":6582,"f":285},{"s":"c","w":6588,"f":285},{"s":"c","w":6594,"f":293},{"s":"c","w":6600,"f":292},{"s":"c","w":6606,"f":296},{"s":"c","w":6612,"f":295},{"s":"c","w":6618,"f":302},{"s":"c","w":6624,"f":302},{"s":"c","w":6630,"f":307},{"s":"c","w":6636,"f":303},{"s":"c","w":6642,"f":306},{"s":"c","w":6648,"f":310},{"s":"c","w":6654,"f":306},{"s":"c","w":6660,"f":312},{"s":"c","w":6666,"f":307},{"s":"c","w":6672,"f":308},{"s":"c","w":6678,"f":304},{"s":"c","w":6684,"f":309},{"s":"c","w":6690,"f":305},{"s":"c","w":6700,"f":306},
{"s":"b","w":6400,"f":226},{"s":"b","w":6406,"f":233},{"s":"b","w":6412,"f":227},{"s":"b","w":6418,"f":231},{"s":"b","w":6424,"f":225},{"s":"b","w":6430,"f":231},{"s":"b","w":6436,"f":227},{"s":"b","w":6442,"f":232},{"s":"b","w":6448,"f":225},{"s":"b","w":6454,"f":228},{"s":"b","w":6460,"f":230},{"s":"b","w":6466,"f":225},{"s":"b","w":6472,"f":231},{"s":"b","w":6478,"f":225},{"s":"b","w":6484,"f":228},{"s":"b","w":6490,"f":223},{"s":"b","w":6496,"f":230},{"s":"b","w":6502,"f":222},{"s":"b","w":6508,"f":227},{"s":"b","w":6514,"f":223},{"s":"b","w":6520,"f":227},{"s":"b","w":6526,"f":219},{"s":"b","w":6532,"f":221},{"s":"b","w":6538,"f":215},{"s":"b","w":6544,"f":219},{"s":"b","w":6550,"f":213},{"s":"b","w":6556,"f":207},{"s":"b","w":6560,"f":208},{"s":"b","w":6565,"f":203},{"s":"b","w":6570,"f":211},{"s":"b","w":6576,"f":217},{"s":"b","w":6582,"f":216},{"s":"b","w":6588,"f":223},{"s":"b","w":6594,"f":219},{"s":"b","w":6600,"f":228},{"s":"b","w":6606,"f":222},{"s":"b","w":6612,"f":227},{"s":"b","w":6618,"f":222},{"s":"b","w":6624,"f":229},{"s":"b","w":6630,"f":227},{"s":"b","w":6636,"f":231},{"s":"b","w":6642,"f":225},{"s":"b","w":6648,"f":231},{"s":"b","w":6654,"f":229},{"s":"b","w":6660,"f":218},{"s":"b","w":6664,"f":234},{"s":"b","w":6670,"f":236},{"s":"b","w":6676,"f":240},{"s":"b","w":6682,"f":237},{"s":"b","w":6688,"f":239},{"s":"b","w":6694,"f":236},{"s":"b","w":6700,"f":237},
{"s":"l","w":6400,"f":169},{"s":"l","w":6406,"f":176},{"s":"l","w":6412,"f":171},{"s":"l","w":6418,"f":175},{"s":"l","w":6424,"f":170},{"s":"l","w":6430,"f":177},{"s":"l","w":6436,"f":173},{"s":"l","w":6442,"f":179},{"s":"l","w":6448,"f":172},{"s":"l","w":6454,"f":176},{"s":"l","w":6460,"f":182},{"s":"l","w":6466,"f":169},{"s":"l","w":6472,"f":172},{"s":"l","w":6478,"f":164},{"s":"l","w":6484,"f":166},{"s":"l","w":6490,"f":161},{"s":"l","w":6496,"f":173},{"s":"l","w":6502,"f":174},{"s":"l","w":6508,"f":165},{"s":"l","w":6514,"f":169},{"s":"l","w":6520,"f":160},{"s":"l","w":6526,"f":165},{"s":"l","w":6532,"f":161},{"s":"l","w":6538,"f":165},{"s":"l","w":6544,"f":156},{"s":"l","w":6550,"f":158},{"s":"l","w":6556,"f":153},{"s":"l","w":6560,"f":149},{"s":"l","w":6563,"f":145},{"s":"l","w":6566,"f":153},{"s":"l","w":6570,"f":157},{"s":"l","w":6576,"f":165},{"s":"l","w":6582,"f":161},{"s":"l","w":6588,"f":168},{"s":"l","w":6594,"f":162},{"s":"l","w":6600,"f":165},{"s":"l","w":6606,"f":160},{"s":"l","w":6612,"f":164},{"s":"l","w":6618,"f":156},{"s":"l","w":6624,"f":162},{"s":"l","w":6630,"f":169},{"s":"l","w":6636,"f":165},{"s":"l","w":6642,"f":169},{"s":"l","w":6648,"f":163},{"s":"l","w":6654,"f":170},{"s":"l","w":6660,"f":165},{"s":"l","w":6666,"f":170},{"s":"l","w":6672,"f":166},{"s":"l","w":6678,"f":173},{"s":"l","w":6684,"f":168},{"s":"l","w":6690,"f":174},{"s":"l","w":6696,"f":173},{"s":"l","w":6700,"f":175},
{"s":"v","w":6400,"f":111},{"s":"v","w":6406,"f":113},{"s":"v","w":6412,"f":112},{"s":"v","w":6418,"f":114},{"s":"v","w":6424,"f":112},{"s":"v","w":6430,"f":113},{"s":"v","w":6436,"f":115},{"s":"v","w":6442,"f":113},{"s":"v","w":6448,"f":114},{"s":"v","w":6454,"f":112},{"s":"v","w":6460,"f":114},{"s":"v","w":6466,"f":115},{"s":"v","w":6472,"f":113},{"s":"v","w":6478,"f":114},{"s":"v","w":6484,"f":116},{"s":"v","w":6490,"f":114},{"s":"v","w":6496,"f":115},{"s":"v","w":6502,"f":113},{"s":"v","w":6508,"f":111},{"s":"v","w":6514,"f":112},{"s":"v","w":6520,"f":109},{"s":"v","w":6526,"f":108},{"s":"v","w":6532,"f":107},{"s":"v","w":6538,"f":106},{"s":"v","w":6544,"f":105},{"s":"v","w":6550,"f":104},{"s":"v","w":6556,"f":101},{"s":"v","w":6560,"f":98},{"s":"v","w":6563,"f":89},{"s":"v","w":6565,"f":77},{"s":"v","w":6567,"f":89},{"s":"v","w":6570,"f":98},{"s":"v","w":6576,"f":102},{"s":"v","w":6582,"f":105},{"s":"v","w":6588,"f":107},{"s":"v","w":6594,"f":109},{"s":"v","w":6600,"f":112},{"s":"v","w":6606,"f":113},{"s":"v","w":6612,"f":115},{"s":"v","w":6618,"f":116},{"s":"v","w":6624,"f":118},{"s":"v","w":6630,"f":117},{"s":"v","w":6636,"f":116},{"s":"v","w":6642,"f":114},{"s":"v","w":6648,"f":112},{"s":"v","w":6650,"f":112},
{"s":"m","w":6400,"f":51},{"s":"m","w":6406,"f":52},{"s":"m","w":6412,"f":50},{"s":"m","w":6418,"f":51},{"s":"m","w":6424,"f":52},{"s":"m","w":6430,"f":50},{"s":"m","w":6436,"f":51},{"s":"m","w":6442,"f":50},{"s":"m","w":6448,"f":51},{"s":"m","w":6454,"f":49},{"s":"m","w":6460,"f":50},{"s":"m","w":6466,"f":51},{"s":"m","w":6472,"f":49},{"s":"m","w":6478,"f":50},{"s":"m","w":6484,"f":49},{"s":"m","w":6490,"f":50},{"s":"m","w":6496,"f":49},{"s":"m","w":6502,"f":48},{"s":"m","w":6508,"f":47},{"s":"m","w":6514,"f":46},{"s":"m","w":6520,"f":44},{"s":"m","w":6526,"f":43},{"s":"m","w":6532,"f":41},{"s":"m","w":6538,"f":39},{"s":"m","w":6544,"f":36},{"s":"m","w":6550,"f":34},{"s":"m","w":6556,"f":31},{"s":"m","w":6560,"f":26},{"s":"m","w":6563,"f":19},{"s":"m","w":6566,"f":28},{"s":"m","w":6570,"f":31},{"s":"m","w":6576,"f":30},{"s":"m","w":6580,"f":27},{"s":"m","w":6584,"f":34},{"s":"m","w":6590,"f":39},{"s":"m","w":6596,"f":43},{"s":"m","w":6602,"f":46},{"s":"m","w":6608,"f":48},{"s":"m","w":6614,"f":50},{"s":"m","w":6620,"f":52},{"s":"m","w":6626,"f":53},{"s":"m","w":6632,"f":52},{"s":"m","w":6638,"f":53},{"s":"m","w":6644,"f":52},{"s":"m","w":6650,"f":53},{"s":"m","w":6656,"f":52},{"s":"m","w":6662,"f":51},{"s":"m","w":6668,"f":52},{"s":"m","w":6674,"f":50},{"s":"m","w":6680,"f":49},{"s":"m","w":6685,"f":47}
]},
"hconcat":[
{"width":605,"height":469,
"layer":[
{"data":{"name":"L"},"mark":{"type":"line","color":"#000","strokeWidth":1},
"encoding":{
"x":{"field":"w","type":"quantitative","scale":{"domain":[3750,5400],"nice":false,"zero":false},"axis":{"values":[3800,4000,4200,4400,4600,4800,5000,5200,5400],"title":"λ [Å]","titleFontStyle":"italic","format":"d"}},
"y":{"field":"f","type":"quantitative","scale":{"domain":[0,469],"nice":false},"axis":{"title":"Relative Flux","labels":false,"ticks":false,"tickSize":0,"titlePadding":3}},
"detail":{"field":"s","type":"nominal"}}},
{"data":{"name":"T"},"mark":{"type":"text","align":"left","baseline":"middle","fontSize":11.5,"color":"#000","font":"DejaVu Sans"},
"encoding":{"x":{"field":"w","type":"quantitative"},"y":{"field":"f","type":"quantitative"},"text":{"field":"s","type":"nominal"}}}
]},
{"width":151,"height":469,"data":{"name":"R"},"mark":{"type":"line","color":"#000","strokeWidth":1},
"encoding":{
"x":{"field":"w","type":"quantitative","scale":{"domain":[6400,6700],"nice":false,"zero":false},"axis":{"values":[6400,6500,6600,6700],"title":"λ [Å]","titleFontStyle":"italic","format":"d"}},
"y":{"field":"f","type":"quantitative","scale":{"domain":[0,469],"nice":false},"axis":null},
"detail":{"field":"s","type":"nominal"}}}
]
}
